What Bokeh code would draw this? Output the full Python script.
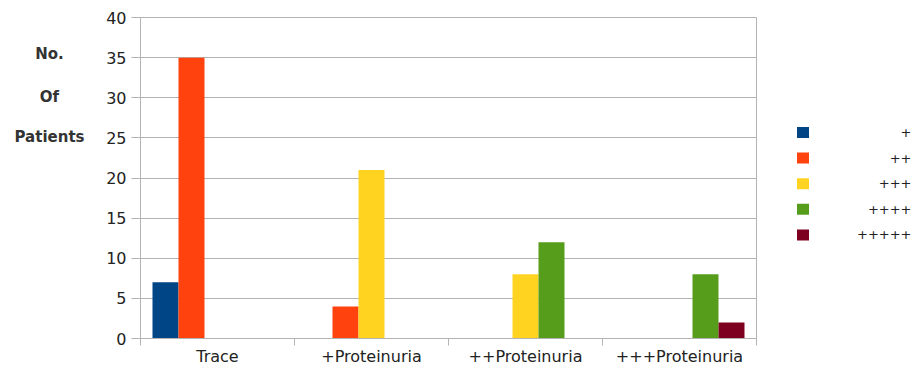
from bokeh.plotting import figure
from bokeh.layouts import row
from bokeh.models import Range1d, FixedTicker
from bokeh.core.properties import value
from bokeh.embed import file_html
from bokeh.resources import INLINE

categories = ["Trace", "+Proteinuria", "++Proteinuria", "+++Proteinuria"]
series_names = ["+", "++", "+++", "++++", "+++++"]
series_colors = ["#004586", "#ff420e", "#ffd320", "#579d1c", "#7e0021"]
plus1 = [7, 0, 0, 0]
plus2 = [35, 4, 0, 0]
plus3 = [0, 21, 8, 0]
plus4 = [0, 0, 12, 8]
plus5 = [0, 0, 0, 2]
series_values = [plus1, plus2, plus3, plus4, plus5]
y_ticks = [0, 5, 10, 15, 20, 25, 30, 35, 40]
ylabel_lines = ["No.", "Of", "Patients"]

W, H = 921, 368
LEFT_W = 95          # width of the y-title panel
LEG_X = 770          # start of the legend panel
FL, FR, FT, FB = 140, 756, 17, 338   # main frame edges (pixels)
YMAX = 40
NCAT = len(categories)


def dy(py):
    return (FB - py) / (FB - FT) * YMAX


def side_fig(width, x0):
    f = figure(width=width, height=H, output_backend="svg", toolbar_location=None,
               x_range=Range1d(x0, x0 + width), y_range=Range1d(0, YMAX),
               min_border_left=0, min_border_right=0,
               min_border_top=FT, min_border_bottom=H - FB)
    f.axis.visible = False
    f.grid.grid_line_color = None
    f.outline_line_color = None
    f.background_fill_color = "white"
    f.border_fill_color = "white"
    return f


# ---- main chart ----
p = figure(width=LEG_X - LEFT_W, height=H, output_backend="svg", toolbar_location=None,
           x_range=Range1d(0, NCAT), y_range=Range1d(0, YMAX),
           min_border_left=FL - LEFT_W, min_border_right=LEG_X - FR,
           min_border_top=FT, min_border_bottom=H - FB)
p.background_fill_color = "white"
p.border_fill_color = "white"
p.outline_line_color = "#b3b3b3"

bw = 26 / 154
for j, (name, col, vals) in enumerate(zip(series_names, series_colors, series_values)):
    xs, tops = [], []
    for i, v in enumerate(vals):
        if v > 0:
            xs.append(i + 0.5 + (j - 2) * bw)
            tops.append(v)
    p.vbar(x=xs, top=tops, width=bw, fill_color=col, line_color=None)

xa = p.xaxis[0]
xa.ticker = FixedTicker(ticks=[i + 0.5 for i in range(NCAT)],
                        minor_ticks=list(range(NCAT + 1)))
xa.major_label_overrides = {i + 0.5: c for i, c in enumerate(categories)}
xa.major_tick_out = 0
xa.major_tick_in = 0
xa.minor_tick_out = 7
xa.minor_tick_in = 0
xa.minor_tick_line_color = "#b3b3b3"
xa.axis_line_color = "#b3b3b3"
xa.major_label_standoff = 1
xa.major_label_text_font = "DejaVu Sans"
xa.major_label_text_font_size = "16px"
xa.major_label_text_color = "#222222"

ya = p.yaxis[0]
ya.ticker = FixedTicker(ticks=y_ticks, minor_ticks=[])
ya.major_tick_out = 9
ya.major_tick_in = 0
ya.major_tick_line_color = "#b3b3b3"
ya.axis_line_color = "#b3b3b3"
ya.minor_tick_line_color = None
ya.major_label_standoff = 5
ya.major_label_text_font = "DejaVu Sans"
ya.major_label_text_font_size = "16px"
ya.major_label_text_color = "#222222"

p.xgrid.grid_line_color = None
p.ygrid.grid_line_color = "#b3b3b3"
p.ygrid.ticker = FixedTicker(ticks=y_ticks)

# ---- y-axis title panel ----
lp = side_fig(LEFT_W, 0)
lp.text(x=[49] * len(ylabel_lines), y=[dy(v) for v in (53, 96, 136)], text=ylabel_lines,
        text_align="center", text_baseline="middle", text_font=value("DejaVu Sans"),
        text_font_style="bold", text_font_size="15px", text_color="#333333")

# ---- legend panel ----
rp = side_fig(W - LEG_X, LEG_X)
leg_y = [dy(132 + k * 25.6) for k in range(len(series_names))]
rp.rect(x=[802.5] * len(series_names), y=leg_y, width=12, height=11,
        width_units="screen", height_units="screen",
        fill_color=series_colors, line_color=None)
rp.text(x=[911] * len(series_names), y=leg_y, text=series_names,
        text_align="right", text_baseline="middle", text_font=value("DejaVu Sans"),
        text_font_size="13px", text_color="#222222")

layout = row(lp, p, rp, spacing=0)
open("out.html", "w").write(file_html(layout, INLINE))
